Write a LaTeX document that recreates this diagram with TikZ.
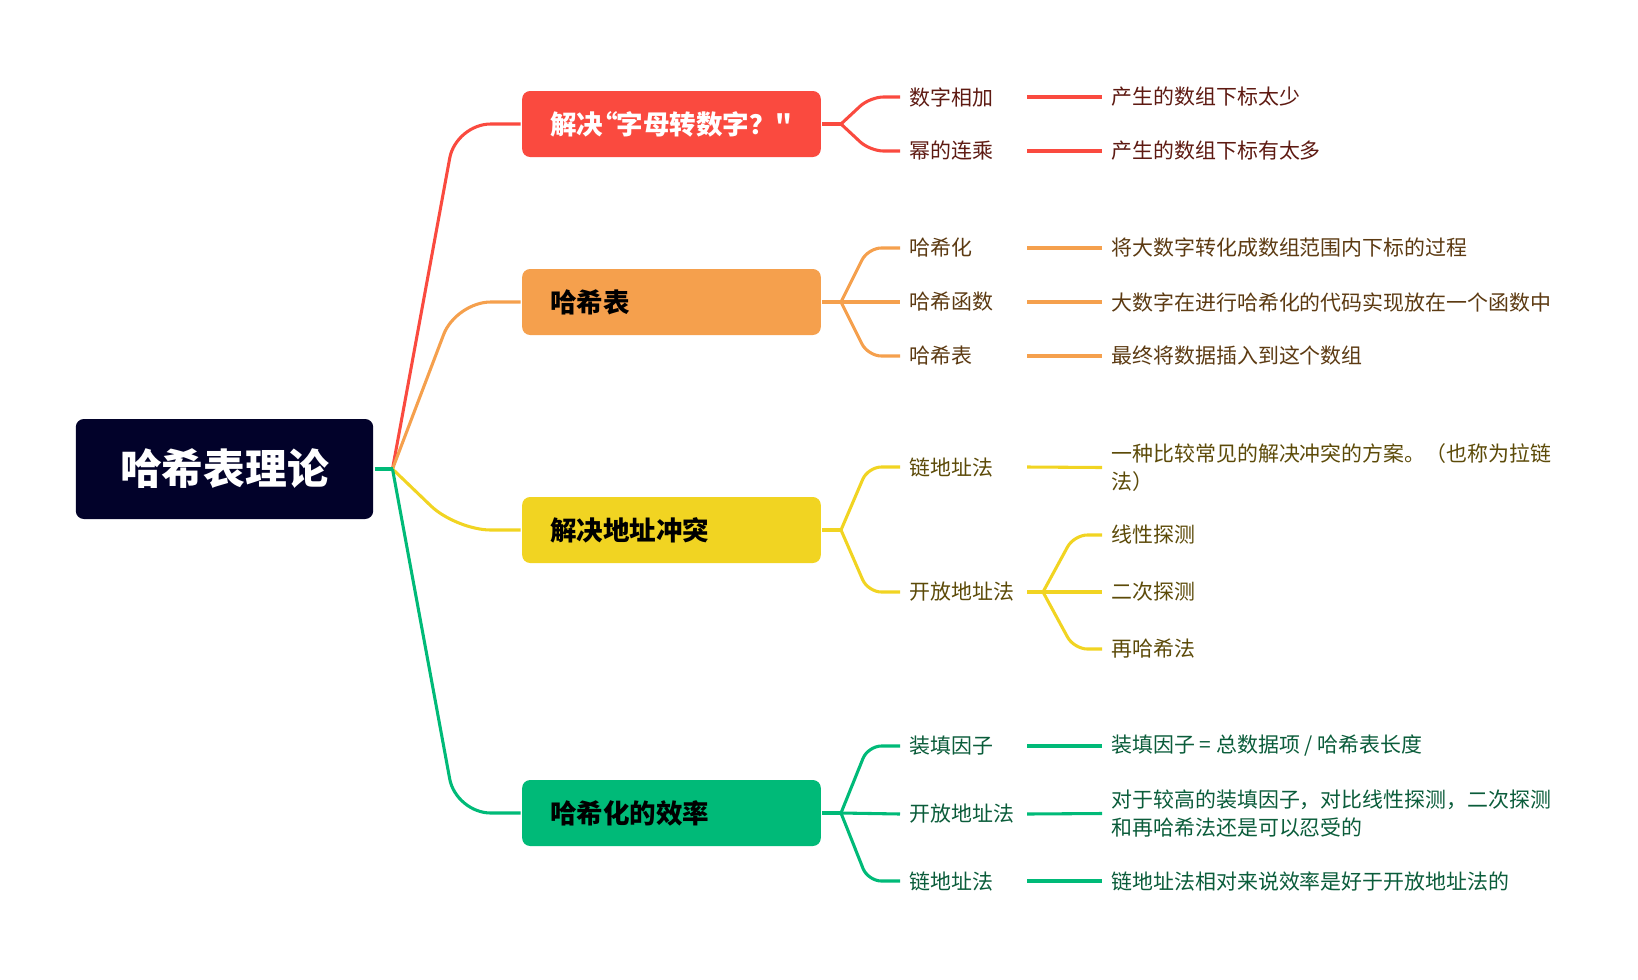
\documentclass[tikz,border=0pt]{standalone}
\usepackage{fontspec}
\newfontfamily\cjk{Noto Sans CJK SC}
\usepackage{tikz}
\usetikzlibrary{calc,positioning}

\definecolor{rootc}{HTML}{02022A}
\definecolor{redc}{HTML}{FA4A3F}
\definecolor{orangec}{HTML}{F5A04D}
\definecolor{yellowc}{HTML}{F1D422}
\definecolor{greenc}{HTML}{00BA78}
\definecolor{redt}{HTML}{5E1A12}
\definecolor{oranget}{HTML}{5C3A12}
\definecolor{yellowt}{HTML}{5C4A08}
\definecolor{greent}{HTML}{0A5C3A}

\begin{document}
\begin{tikzpicture}[x=0.75pt,y=-0.75pt,line width=2.3pt,font=\cjk,
    root/.style={fill=rootc,text=white,rounded corners=6pt,minimum width=223pt,minimum height=75pt,font=\cjk\bfseries\fontsize{31.3pt}{36pt}\selectfont},
    lvl/.style={rounded corners=6pt,minimum width=224pt,minimum height=49.5pt,text width=182pt,inner xsep=21pt,align=left,font=\cjk\bfseries\fontsize{19.9pt}{24pt}\selectfont},
    sub/.style={anchor=west,text width=81pt,inner xsep=6pt,align=left,font=\cjk\fontsize{15.7pt}{20.7pt}\selectfont},
    leaf/.style={anchor=west,inner xsep=6pt,align=left,font=\cjk\fontsize{15.7pt}{20.7pt}\selectfont},
    mainbend/.style={rounded corners=26pt},
    subbend/.style={rounded corners=10pt}]
      \useasboundingbox (0,0) rectangle (1638,979);

      % root
      \node[root] (root) at (224.5,469) {哈希表理论};
      \coordinate (fk) at (392.5,469);

      % main branches
      \node[lvl,fill=redc,text=white] (r) at (671.5,124) {解决\kern-0.45em“\kern-0.05em字母转数字？"};
      \node[lvl,fill=orangec] (o) at (671.5,302) {哈希表};
      \node[lvl,fill=yellowc] (y) at (671.5,530) {解决地址冲突};
      \node[lvl,fill=greenc] (g) at (671.5,813) {哈希化的效率};

      \draw[redc,mainbend] (fk) -- (456,124) -- (r.west);
      \draw[orangec,mainbend] (fk) -- (456,302) -- (o.west);
      \draw[yellowc,mainbend] (fk) -- (456,530) -- (y.west);
      \draw[greenc,mainbend] (fk) -- (456,813) -- (g.west);
      \draw[greenc] (root.east) -- (fk);

      % red
      \coordinate (rf) at (841,124);
      \node[sub,text=redt] (r1) at (900,97) {数字相加};
      \node[sub,text=redt] (r2) at (900,151) {幂的连乘};
      \node[leaf,text=redt] (r1l) at (1102,97) {产生的数组下标太少};
      \node[leaf,text=redt] (r2l) at (1102,151) {产生的数组下标有太多};
      \draw[redc] (r.east) -- (rf);
      \draw[redc,subbend] (rf) -- (870,97) -- (r1.west);
      \draw[redc,subbend] (rf) -- (870,151) -- (r2.west);
      \draw[redc] (r1.east) -- (r1l.west);
      \draw[redc] (r2.east) -- (r2l.west);

      % orange
      \coordinate (of) at (841,302);
      \node[sub,text=oranget] (o1) at (900,248) {哈希化};
      \node[sub,text=oranget] (o2) at (900,302) {哈希函数};
      \node[sub,text=oranget] (o3) at (900,356) {哈希表};
      \node[leaf,text=oranget] (o1l) at (1102,248) {将大数字转化成数组范围内下标的过程};
      \node[leaf,text=oranget] (o2l) at (1102,302) {大数字在进行哈希化的代码实现放在一个函数中};
      \node[leaf,text=oranget] (o3l) at (1102,356) {最终将数据插入到这个数组};
      \draw[orangec] (o.east) -- (of);
      \draw[orangec,subbend] (of) -- (868,248) -- (o1.west);
      \draw[orangec] (of) -- (o2.west);
      \draw[orangec,subbend] (of) -- (868,356) -- (o3.west);
      \draw[orangec] (o1.east) -- (o1l.west);
      \draw[orangec] (o2.east) -- (o2l.west);
      \draw[orangec] (o3.east) -- (o3l.west);

      % yellow
      \coordinate (yf) at (841,530);
      \node[sub,text=yellowt] (y1) at (900,467) {链地址法};
      \node[sub,text=yellowt] (y2) at (900,592) {开放地址法};
      \node[leaf,text=yellowt] (y1l) at (1102,467.5) {一种比较常见的解决冲突的方案。（也称为拉链\\法）};
      \draw[yellowc] (y.east) -- (yf);
      \draw[yellowc,subbend] (yf) -- (868,467) -- (y1.west);
      \draw[yellowc,subbend] (yf) -- (868,592) -- (y2.west);
      \draw[yellowc] (y1.east) -- (y1l.west);

      \coordinate (yf2) at (1043,592);
      \node[leaf,text=yellowt] (y21) at (1102,535) {线性探测};
      \node[leaf,text=yellowt] (y22) at (1102,592) {二次探测};
      \node[leaf,text=yellowt] (y23) at (1102,649) {再哈希法};
      \draw[yellowc] (y2.east) -- (yf2);
      \draw[yellowc,subbend] (yf2) -- (1074,535) -- (y21.west);
      \draw[yellowc] (yf2) -- (y22.west);
      \draw[yellowc,subbend] (yf2) -- (1074,649) -- (y23.west);

      % green
      \coordinate (gf) at (841,813);
      \node[sub,text=greent] (g1) at (900,746) {装填因子};
      \node[sub,text=greent] (g2) at (900,814) {开放地址法};
      \node[sub,text=greent] (g3) at (900,881) {链地址法};
      \node[leaf,text=greent] (g1l) at (1102,746) {装填因子 = 总数据项 / 哈希表长度};
      \node[leaf,text=greent] (g2l) at (1102,813.5) {对于较高的装填因子，对比线性探测，二次探测\\和再哈希法还是可以忍受的};
      \node[leaf,text=greent] (g3l) at (1102,881) {链地址法相对来说效率是好于开放地址法的};
      \draw[greenc] (g.east) -- (gf);
      \draw[greenc,subbend] (gf) -- (868,746) -- (g1.west);
      \draw[greenc] (gf) -- (g2.west);
      \draw[greenc,subbend] (gf) -- (868,881) -- (g3.west);
      \draw[greenc] (g1.east) -- (g1l.west);
      \draw[greenc] (g2.east) -- (g2l.west);
      \draw[greenc] (g3.east) -- (g3l.west);
    \end{tikzpicture}
\end{document}
